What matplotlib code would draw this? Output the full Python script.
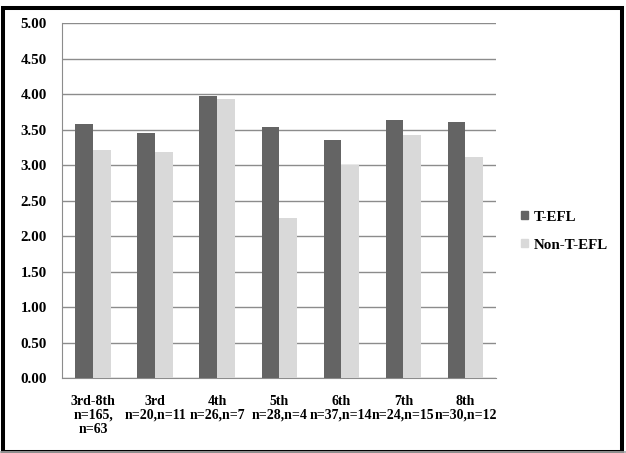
import matplotlib
matplotlib.use('Agg')
import matplotlib.pyplot as plt
import matplotlib.patches as mpatches
import matplotlib.lines as mlines
import numpy as np

categories = ["3rd-8th\nn=165,\nn=63", "3rd\nn=20,n=11", "4th\nn=26,n=7",
              "5th\nn=28,n=4", "6th\nn=37,n=14", "7th\nn=24,n=15", "8th\nn=30,n=12"]
t_efl = [3.58, 3.45, 3.97, 3.54, 3.35, 3.63, 3.60]
non_t_efl = [3.21, 3.18, 3.93, 2.25, 3.00, 3.42, 3.11]
series_names = ["T-EFL", "Non-T-EFL"]
y_ticks = [0, 0.5, 1.0, 1.5, 2.0, 2.5, 3.0, 3.5, 4.0, 4.5, 5.0]

plt.rcParams['font.family'] = ['Liberation Serif', 'DejaVu Serif']
plt.rcParams['font.weight'] = 'bold'

dark = "#646464"
light = "#d9d9d9"
grid_c = "#8c8c8c"

fig = plt.figure(figsize=(6.26, 4.53), dpi=100)
ax = fig.add_axes([62 / 626, 1 - 378.3 / 453, (496.5 - 62) / 626, (378.3 - 23) / 453])

x = np.arange(len(categories))
w = 1 / 3.5
ax.bar(x - w / 2, t_efl, width=w, color=dark, label=series_names[0], zorder=3)
ax.bar(x + w / 2, non_t_efl, width=w, color=light, label=series_names[1], zorder=3)

ax.set_xlim(-0.5, len(categories) - 0.5)
ax.set_ylim(0, 5)
ax.set_yticks(y_ticks)
ax.set_yticklabels([f"{v:.2f}" for v in y_ticks], fontsize=10.8, fontweight='bold')
ax.set_xticks(x)
ax.set_xticklabels(categories, fontsize=10, fontweight='bold', linespacing=1.1)
ax.tick_params(axis='y', length=0, pad=11)
ax.tick_params(axis='x', length=0, pad=12)
ax.yaxis.grid(True, color=grid_c, linewidth=1.0, zorder=0)
ax.set_axisbelow(True)
for s in ['top', 'right']:
    ax.spines[s].set_visible(False)
ax.spines['left'].set_color(grid_c)
ax.spines['bottom'].set_color(grid_c)

handles = [mpatches.Patch(color=dark, label=series_names[0]),
           mpatches.Patch(color=light, label=series_names[1])]
fig.legend(handles=handles, loc='center left', bbox_to_anchor=(0.81, 0.49),
           frameon=False, handlelength=0.5, handleheight=0.5,
           handletextpad=0.4, labelspacing=1.0, prop={'weight': 'bold', 'size': 10.8})

# outer frame
fig.patches.append(mpatches.Rectangle((3 / 626, 1 - 452 / 453), 619 / 626, (452 - 8) / 453,
                                      transform=fig.transFigure, fill=False,
                                      edgecolor='black', linewidth=2.9))
fig.lines.append(mlines.Line2D([0, 1], [1 - 451.5 / 453] * 2, transform=fig.transFigure,
                               color='#aaaaaa', linewidth=1.2))

fig.savefig("out.png", dpi=100)
